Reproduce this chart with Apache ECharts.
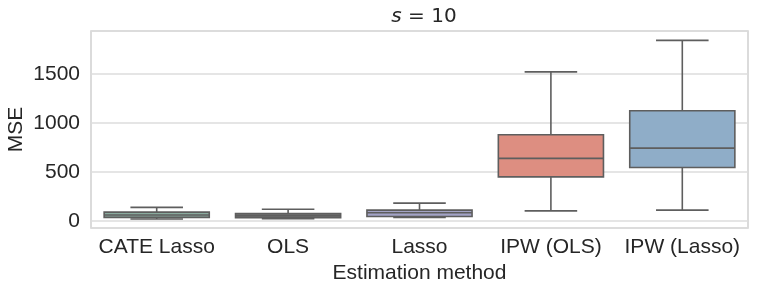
<!DOCTYPE html>
<html><head><meta charset="utf-8">
<script src="https://cdn.jsdelivr.net/npm/echarts@6/dist/echarts.min.js"></script>
<style>html,body{margin:0;padding:0;background:#fff}#c{width:763px;height:290px}</style>
</head><body><div id="c"></div>
<script>
const categories = ['CATE Lasso', 'OLS', 'Lasso', 'IPW (OLS)', 'IPW (Lasso)'];
const lowerWhisker = [22, 24, 38, 105, 112];
const q1 = [38, 34, 48, 452, 548];
const median = [62, 55, 85, 640, 745];
const q3 = [92, 78, 112, 881, 1126];
const upperWhisker = [140, 122, 184, 1523, 1844];
const boxColors = ['#8aab9e', '#6e6e6e', '#a3a3c6', '#dd8e81', '#8fadc8'];
const yTicks = [0, 500, 1000, 1500];

const chart = echarts.init(document.getElementById('c'));
const font = 'Liberation Sans, Arial, sans-serif';
const edge = '#5e5e5e';
function renderItem(params, api) {
  const i = api.value(0);
  const band = api.size([1, 0])[0];
  const x = api.coord([i, 0])[0];
  const yLo = api.coord([i, api.value(1)])[1];
  const yQ1 = api.coord([i, api.value(2)])[1];
  const yMed = api.coord([i, api.value(3)])[1];
  const yQ3 = api.coord([i, api.value(4)])[1];
  const yHi = api.coord([i, api.value(5)])[1];
  const bw = band * 0.8, cw = band * 0.4;
  const ls = {stroke: edge, lineWidth: 1.6};
  return {
    type: 'group',
    children: [
      {type: 'line', shape: {x1: x, y1: yQ3, x2: x, y2: yHi}, style: ls},
      {type: 'line', shape: {x1: x, y1: yQ1, x2: x, y2: yLo}, style: ls},
      {type: 'line', shape: {x1: x - cw / 2, y1: yHi, x2: x + cw / 2, y2: yHi}, style: ls},
      {type: 'line', shape: {x1: x - cw / 2, y1: yLo, x2: x + cw / 2, y2: yLo}, style: ls},
      {type: 'rect', shape: {x: x - bw / 2, y: yQ3, width: bw, height: yQ1 - yQ3},
        style: {fill: boxColors[i], stroke: edge, lineWidth: 1.6}},
      {type: 'line', shape: {x1: x - bw / 2, y1: yMed, x2: x + bw / 2, y2: yMed}, style: ls}
    ]
  };
}
chart.setOption({
  animation: false,
  title: {
    text: '{i|s}{n| = 10}',
    left: 419, top: 2, textAlign: 'center',
    textStyle: {
      fontWeight: 'normal',
      rich: {
        i: {fontFamily: 'DejaVu Sans', fontStyle: 'italic', fontWeight: 'normal', fontSize: 20, color: '#262626'},
        n: {fontFamily: 'DejaVu Sans', fontWeight: 'normal', fontSize: 20, color: '#262626'}
      }
    }
  },
  grid: {left: 91, right: 15, top: 31, bottom: 62, outerBoundsMode: 'none', containLabel: false,
    show: true, borderColor: '#d0d0d0', borderWidth: 1.5, backgroundColor: '#fff'},
  xAxis: {
    type: 'category', data: categories,
    axisLine: {show: false}, axisTick: {show: false},
    axisLabel: {fontSize: 21, fontFamily: font, color: '#262626', margin: 9, interval: 0},
    name: 'Estimation method', nameLocation: 'middle', nameGap: 35, nameMoveOverlap: false,
    nameTextStyle: {fontSize: 21, fontFamily: font, color: '#262626'},
    splitLine: {show: false}
  },
  yAxis: {
    type: 'value', min: -70, max: 1940,
    axisLine: {show: false}, axisTick: {show: false},
    axisLabel: {fontSize: 21, fontFamily: font, color: '#262626', margin: 11,
      formatter: v => yTicks.includes(v) ? String(v) : ''},
    splitLine: {show: true, lineStyle: {color: '#dcdcdc', width: 1.5}},
    name: 'MSE', nameLocation: 'middle', nameGap: 64, nameRotate: 90, nameMoveOverlap: false,
    nameTextStyle: {fontSize: 21, fontFamily: font, color: '#262626'}
  },
  series: [{
    type: 'custom',
    renderItem: renderItem,
    encode: {x: 0, y: [1, 2, 3, 4, 5]},
    data: categories.map((c, i) => [i, lowerWhisker[i], q1[i], median[i], q3[i], upperWhisker[i]])
  }]
});
</script></body></html>
